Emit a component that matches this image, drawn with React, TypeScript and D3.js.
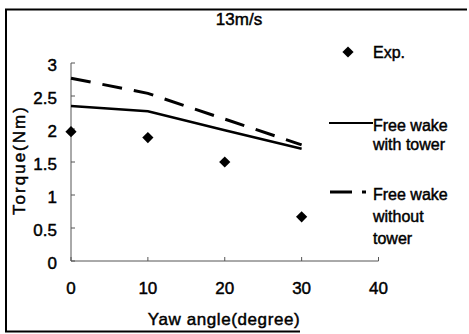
import { useEffect, useRef } from 'react';
import * as d3 from 'd3';

// ─── Data ──────────────────────────────────────────────────
const yawAngles = [0, 10, 20, 30];
const expTorque = [1.96, 1.87, 1.5, 0.67];
const freeWakeWithTower = [2.35, 2.27, 1.98, 1.7];
const freeWakeWithoutTower = [2.77, 2.54, 2.15, 1.76];

const xTicks = [0, 10, 20, 30, 40];
const yTicks = [0, 0.5, 1, 1.5, 2, 2.5, 3];

const title = '13m/s';
const xTitle = 'Yaw angle(degree)';
const yTitle = 'Torque(Nm)';
const legendExp = ['Exp.'];
const legendWith = ['Free wake', 'with tower'];
const legendWithout = ['Free wake', 'without', 'tower'];

const W = 469;
const H = 334;
const FONT = '"Liberation Sans", Arial, sans-serif';

export default function App() {
  const svgRef = useRef<SVGSVGElement>(null);

  useEffect(() => {
    if (!svgRef.current) return;
    const svg = d3.select(svgRef.current);
    svg.selectAll('*').remove();

    const x = d3.scaleLinear().domain([0, 40]).range([71, 378.5]);
    const y = d3.scaleLinear().domain([0, 3]).range([261, 63]);

    // Frame (scanned figure border)
    svg.append('path')
      .attr('d', `M300,331.5 L6,331.5 L6,9.5 L467,9.5`)
      .attr('fill', 'none')
      .attr('stroke', '#000')
      .attr('stroke-width', 2);

    // Axes
    const axisColor = '#555';
    svg.append('line')
      .attr('x1', x(0)).attr('x2', x(0))
      .attr('y1', y(3)).attr('y2', y(0))
      .attr('stroke', axisColor).attr('stroke-width', 1);
    svg.append('line')
      .attr('x1', x(0)).attr('x2', x(40))
      .attr('y1', y(0)).attr('y2', y(0))
      .attr('stroke', axisColor).attr('stroke-width', 1);

    svg.append('g').selectAll('line')
      .data(yTicks)
      .join('line')
      .attr('x1', x(0)).attr('x2', x(0) + 4)
      .attr('y1', (d) => y(d)).attr('y2', (d) => y(d))
      .attr('stroke', axisColor);

    svg.append('g').selectAll('line')
      .data(xTicks)
      .join('line')
      .attr('x1', (d) => x(d)).attr('x2', (d) => x(d))
      .attr('y1', y(0)).attr('y2', y(0) - 4)
      .attr('stroke', axisColor);

    // all text slightly thickened, like the scanned original
    const txt = svg.append('g')
      .attr('font-family', FONT)
      .attr('font-size', 17)
      .attr('stroke', '#000')
      .attr('stroke-width', 0.45);

    txt.append('g').selectAll('text')
      .data(yTicks)
      .join('text')
      .attr('x', 57)
      .attr('y', (d) => y(d) + 8)
      .attr('text-anchor', 'end')
      .text((d) => String(d));

    txt.append('g').selectAll('text')
      .data(xTicks)
      .join('text')
      .attr('x', (d) => x(d))
      .attr('y', 294)
      .attr('text-anchor', 'middle')
      .text((d) => String(d));

    // Titles
    txt.append('text')
      .attr('x', 239).attr('y', 25)
      .attr('text-anchor', 'middle')
      .text(title);

    txt.append('text')
      .attr('x', 224).attr('y', 325)
      .attr('text-anchor', 'middle')
      .attr('letter-spacing', 0.6)
      .text(xTitle);

    txt.append('text')
      .attr('transform', 'translate(25,160) rotate(-90)')
      .attr('text-anchor', 'middle')
      .attr('letter-spacing', 2)
      .text(yTitle);

    // Series
    const pts = (vals: number[]) => yawAngles.map((a, i) => [a, vals[i]] as [number, number]);
    const line = d3.line<[number, number]>().x((d) => x(d[0])).y((d) => y(d[1]));

    svg.append('path')
      .attr('d', line(pts(freeWakeWithoutTower)))
      .attr('fill', 'none')
      .attr('stroke', '#000')
      .attr('stroke-width', 3)
      .attr('stroke-dasharray', '20 12');

    svg.append('path')
      .attr('d', line(pts(freeWakeWithTower)))
      .attr('fill', 'none')
      .attr('stroke', '#000')
      .attr('stroke-width', 2.5);

    const diamond = d3.symbol().type(d3.symbolDiamond2).size(80);
    svg.append('g').selectAll('path')
      .data(pts(expTorque))
      .join('path')
      .attr('transform', (d) => `translate(${x(d[0])},${y(d[1])})`)
      .attr('d', diamond())
      .attr('fill', '#000');

    // Legend
    svg.append('path')
      .attr('transform', 'translate(348,52)')
      .attr('d', diamond())
      .attr('fill', '#000');

    const lg = txt.append('g').attr('font-size', 16);
    lg.append('text').attr('x', 373).attr('y', 58).text(legendExp[0]);

    svg.append('line')
      .attr('x1', 329).attr('x2', 373)
      .attr('y1', 123).attr('y2', 123)
      .attr('stroke', '#000').attr('stroke-width', 2);
    legendWith.forEach((t, i) => {
      lg.append('text').attr('x', 373).attr('y', 131 + i * 19).text(t);
    });

    svg.append('line')
      .attr('x1', 330).attr('x2', 366)
      .attr('y1', 192).attr('y2', 192)
      .attr('stroke', '#000').attr('stroke-width', 3)
      .attr('stroke-dasharray', '22 10');
    legendWithout.forEach((t, i) => {
      lg.append('text').attr('x', 373).attr('y', 200 + i * 22).text(t);
    });
  }, []);

  return (
    <div>
      <style>{`body{margin:0;background:#fff}`}</style>
      <svg ref={svgRef} width={W} height={H} style={{ display: 'block' }} />
    </div>
  );
}
